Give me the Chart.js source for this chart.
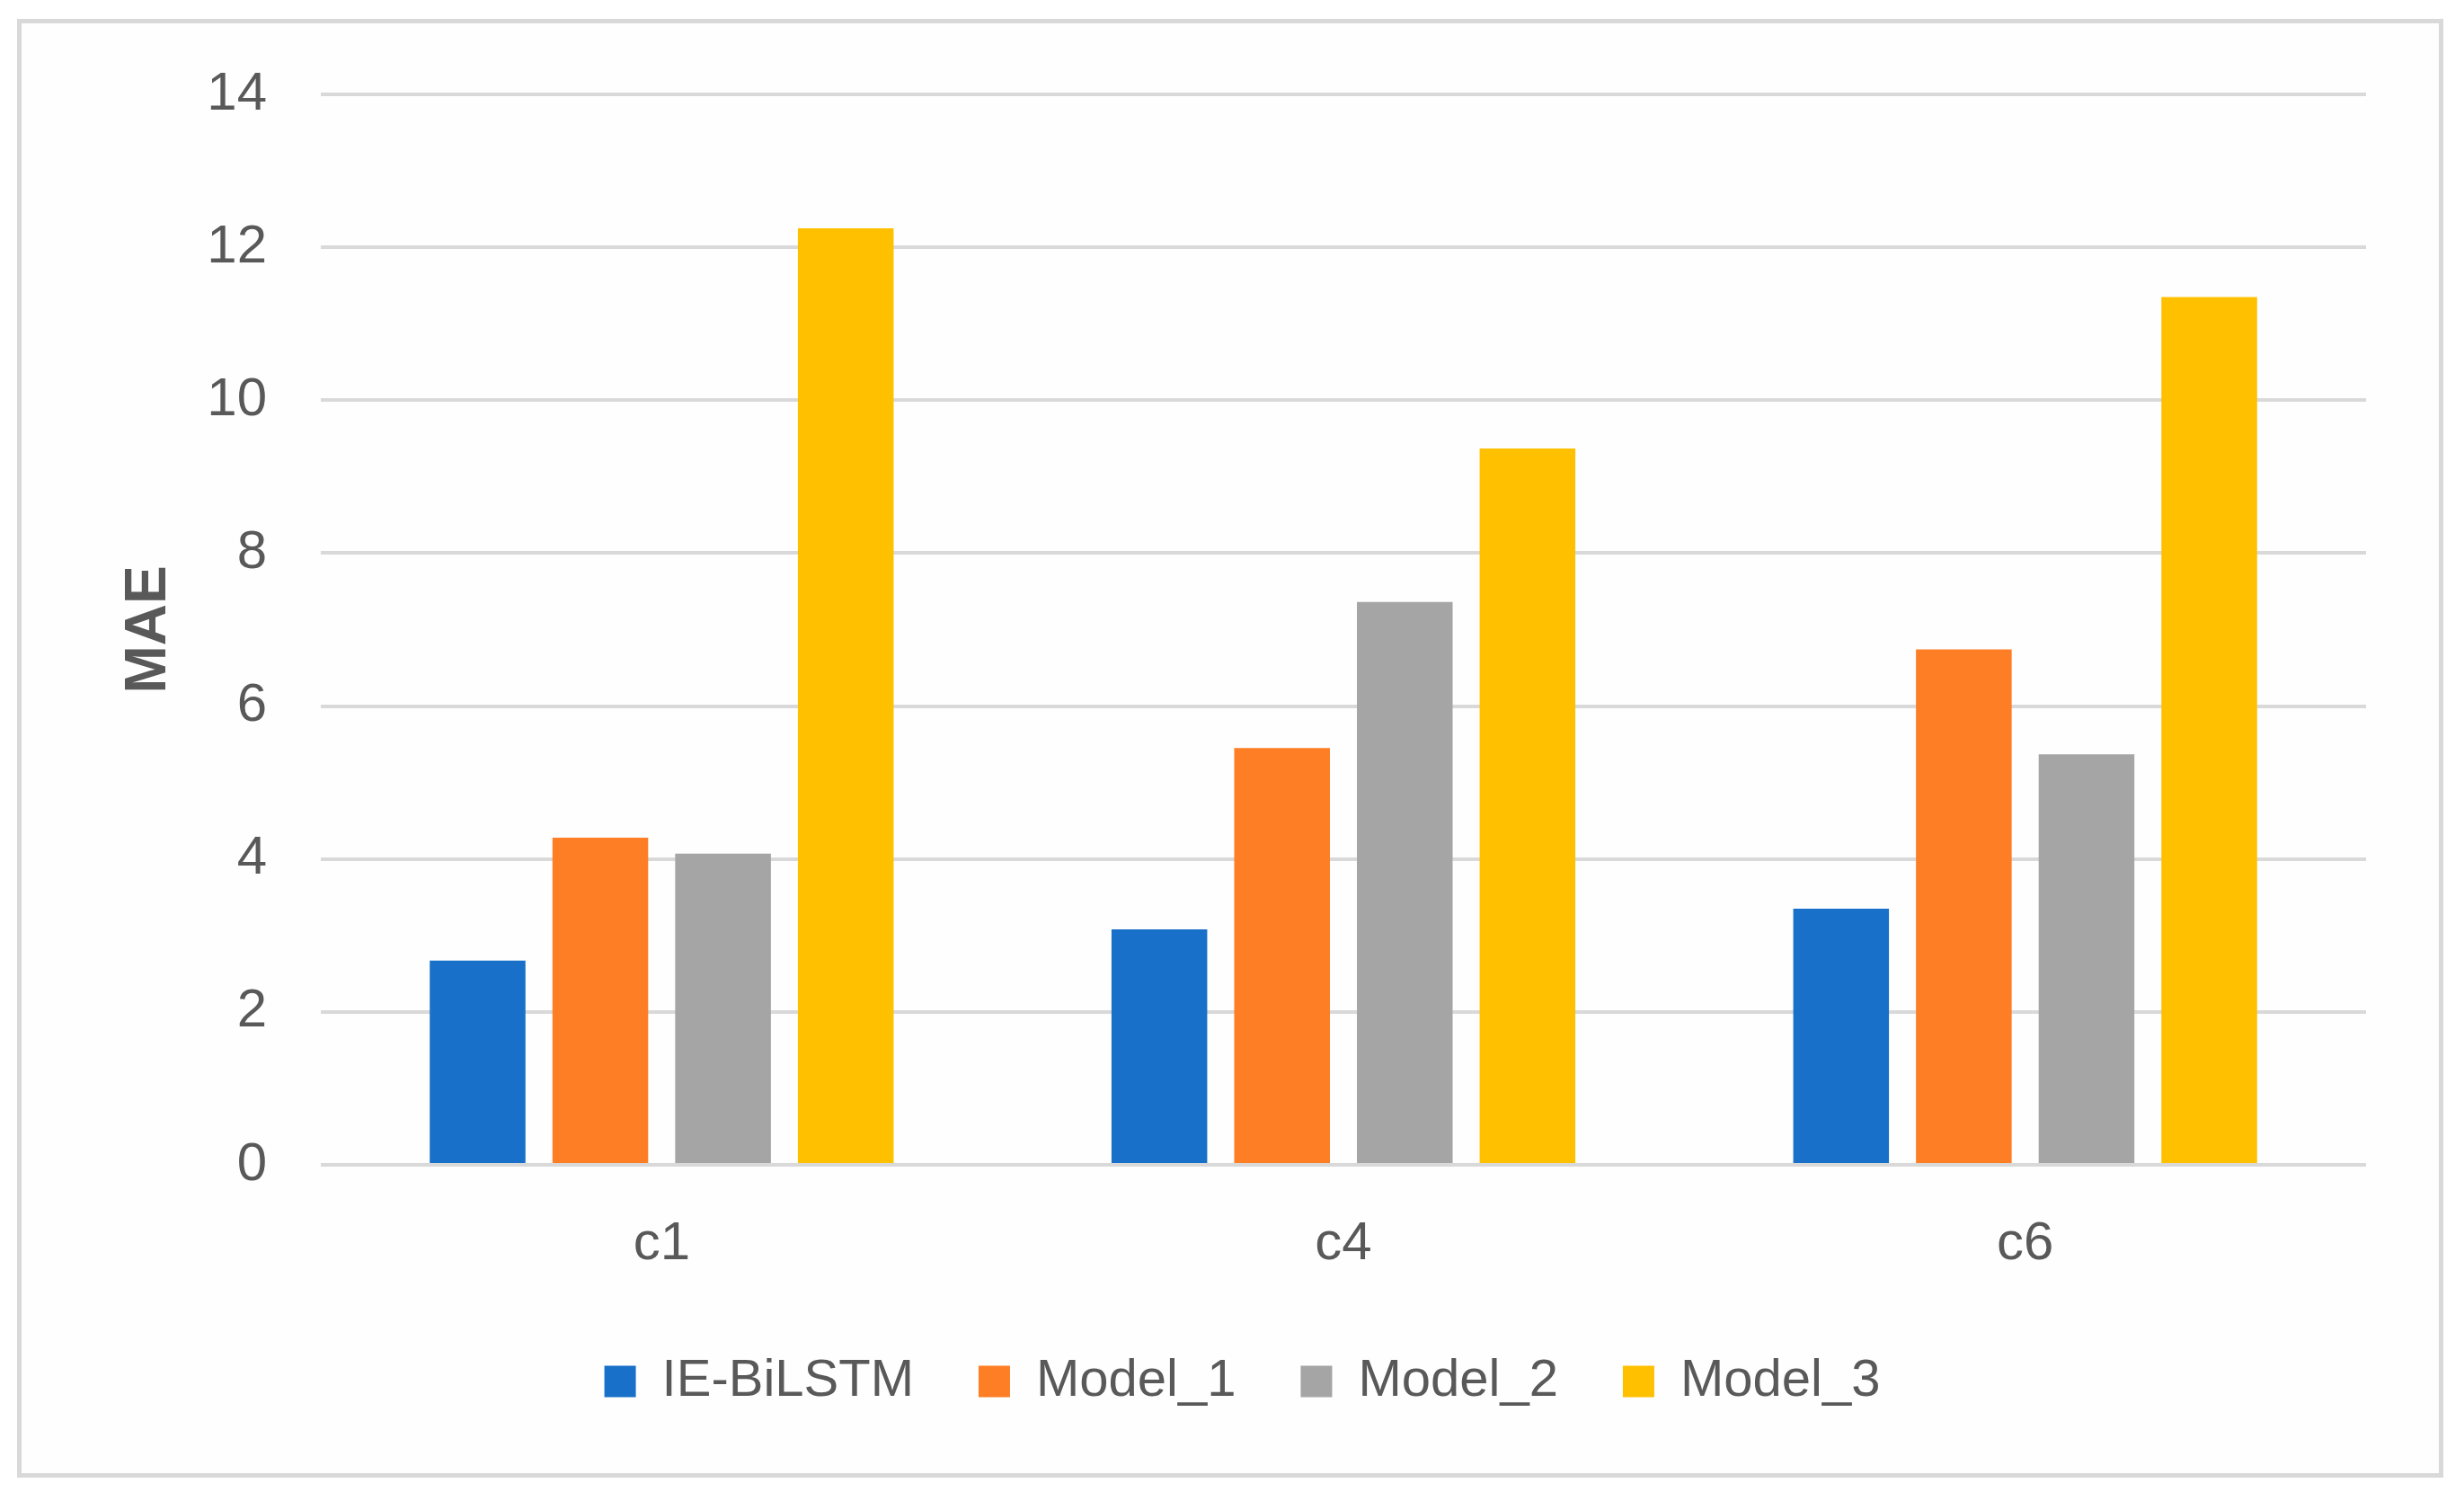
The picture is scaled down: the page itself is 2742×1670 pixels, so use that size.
<!DOCTYPE html>
<html>
<head>
<meta charset="utf-8">
<script src="https://cdn.jsdelivr.net/npm/chart.js@4"></script>
<style>
    body { margin: 0; background: #ffffff; }
    #wrap {
        position: absolute;
        left: 19px;
        top: 21px;
        width: 2690px;
        height: 1613px;
        border: 5px solid #D9D9D9;
        background: #FEFEFE;
    }
</style>
</head>
<body>
<div id="wrap"><canvas id="chart1" width="2690" height="1613"></canvas></div>
<script>
let categories = ['c1', 'c4', 'c6']
let seriesNames = ['IE-BiLSTM', 'Model_1', 'Model_2', 'Model_3']
let ieBiLSTM = [2.67, 3.08, 3.35]
let model1 = [4.28, 5.45, 6.74]
let model2 = [4.07, 7.36, 5.37]
let model3 = [12.25, 9.37, 11.35]
let colors = ['#1870C9', '#FD7E25', '#A5A5A5', '#FFC000']
let yTicks = [0, 2, 4, 6, 8, 10, 12, 14]

const fontFamily = '"Liberation Sans Narrow", "Liberation Sans", sans-serif'

// the legend sits centred on the whole frame, not just the plot
const legendShift = {
    id: 'legendShift',
    afterLayout(chart) {
        chart.legend.left += 54
        chart.legend.right += 54
    }
}

function renderChart1() {
    const ctx = document.querySelector('#chart1').getContext('2d');
    const seriesValues = [ieBiLSTM, model1, model2, model3]
    const chart1 = new Chart(ctx, {
        type: 'bar',
        data: {
            labels: categories,
            datasets: seriesNames.map((name, i) => ({
                label: name,
                data: seriesValues[i],
                backgroundColor: colors[i],
                borderWidth: 0,
                barPercentage: 0.78,
                categoryPercentage: 0.72
            }))
        },
        options: {
            responsive: false,
            animation: false,
            devicePixelRatio: 1,
            scales: {
                x: {
                    afterFit: scale => {
                        scale.height = scale.height - 28
                    },
                    grid: {
                        display: false
                    },
                    border: {
                        display: false
                    },
                    ticks: {
                        color: '#595959',
                        font: { family: fontFamily, size: 60 },
                        padding: 44
                    }
                },
                y: {
                    min: 0,
                    max: 14,
                    afterBuildTicks: scale => {
                        scale.ticks = yTicks.map(v => ({ value: v }))
                    },
                    afterFit: scale => {
                        scale.width = 333
                        scale.paddingTop = 79
                    },
                    grid: {
                        color: '#D9D9D9',
                        lineWidth: 4,
                        drawTicks: false
                    },
                    border: {
                        display: false
                    },
                    ticks: {
                        color: '#595959',
                        font: { family: fontFamily, size: 60 },
                        padding: 60
                    },
                    title: {
                        display: true,
                        text: 'MAE',
                        color: '#595959',
                        font: { family: fontFamily, size: 64, weight: 'bold' },
                        padding: { top: 104, bottom: 0 }
                    }
                }
            },
            plugins: {
                legend: {
                    display: true,
                    position: 'bottom',
                    labels: {
                        color: '#595959',
                        font: { family: fontFamily, size: 58 },
                        boxWidth: 35,
                        boxHeight: 35,
                        padding: 72
                    }
                },
                tooltip: {
                    enabled: false
                }
            },
            layout: {
                padding: { left: 0, right: 81, top: 0, bottom: 63 }
            }
        },
        plugins: [legendShift]
    });
}

renderChart1()
</script>
</body>
</html>
